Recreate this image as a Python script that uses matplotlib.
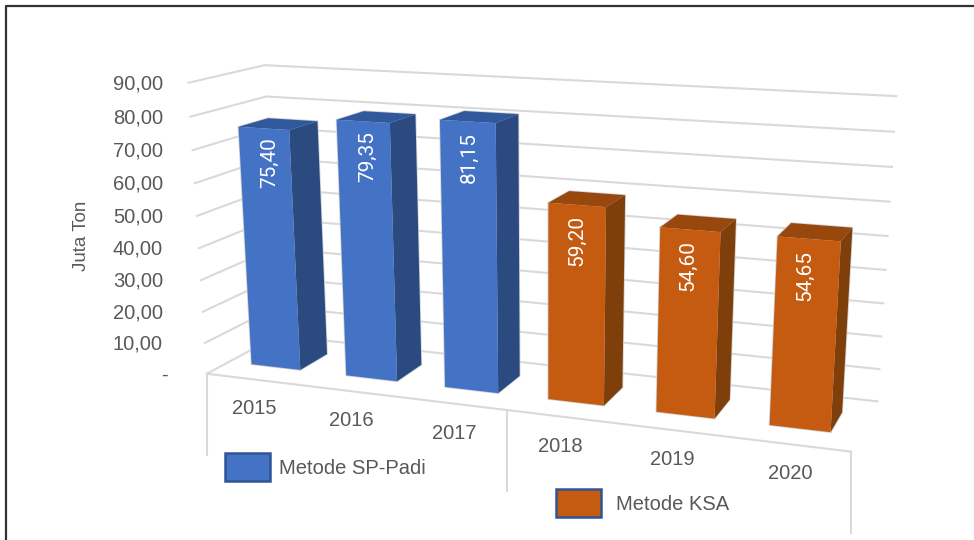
import numpy as np
import matplotlib
matplotlib.use('Agg')
import matplotlib.pyplot as plt
from matplotlib.patches import Polygon, Rectangle

# Data
tahun = ['2015', '2016', '2017', '2018', '2019', '2020']
nilai = [75.40, 79.35, 81.15, 59.20, 54.60, 54.65]
nilai_label = ['75,40', '79,35', '81,15', '59,20', '54,60', '54,65']
level = [0, 10, 20, 30, 40, 50, 60, 70, 80, 90]
level_label = ['-', '10,00', '20,00', '30,00', '40,00', '50,00', '60,00', '70,00', '80,00', '90,00']

plt.rcParams['font.family'] = ['Liberation Sans', 'DejaVu Sans']
abu = '#595959'
garis = '#D9D9D9'
warna_biru = ('#4472C4', '#2A4A80', '#32589C')
warna_oranye = ('#C55A11', '#7F3F0B', '#98480D')

# Kalibrasi perspektif: (kategori, nilai, kedalaman) -> piksel
dunia = [(0, 0, 0), (6, 0, 0), (0, 0, 1), (6, 0, 1), (0, 90, 0), (0, 90, 1),
         (6, 90, 1), (0, 50, 0), (6, 50, 1)]
piksel = [(207, 374), (851, 451), (278, 335), (877, 402), (188, 83), (265, 65),
          (896, 96), (197, 216), (888, 236)]
A = []
b = []
for (X, Y, Z), (u, v) in zip(dunia, piksel):
    A.append([X, Y, Z, 1, 0, 0, 0, 0, -u * X, -u * Y, -u * Z])
    b.append(u)
    A.append([0, 0, 0, 0, X, Y, Z, 1, -v * X, -v * Y, -v * Z])
    b.append(v)
h = np.linalg.lstsq(np.array(A, dtype=float), np.array(b, dtype=float), rcond=None)[0]
P = np.append(h, 1.0).reshape(3, 4)


def proj(x, y, z):
    p = P @ np.array([x, y, z, 1.0])
    return p[0] / p[2], p[1] / p[2]


fig = plt.figure(figsize=(9.74, 5.4), dpi=100)
ax = fig.add_axes([0, 0, 1, 1])
ax.set_xlim(0, 974)
ax.set_ylim(540, 0)
ax.axis('off')

# Bingkai
ax.plot([6, 6, 974], [540, 6, 6], color='#333333', lw=1.6, zorder=1)

# Garis grid dinding
for v in level:
    a = proj(0, v, 0)
    c = proj(0, v, 1)
    d = proj(6, v, 1)
    ax.plot([a[0], c[0], d[0]], [a[1], c[1], d[1]], color=garis, lw=1.5, zorder=2)

# Garis depan lantai dan pemisah kategori
a = proj(0, 0, 0)
d = proj(6, 0, 0)
ax.plot([a[0], d[0]], [a[1], d[1]], color=garis, lw=1.5, zorder=2)
for i in [0, 3, 6]:
    t = proj(i, 0, 0)
    ax.plot([t[0], t[0]], [t[1], t[1] + 81], color=garis, lw=1.5, zorder=2)

# Batang
gap = 0.24
z0 = 0.3
z1 = 0.7
for i, v in enumerate(nilai):
    warna = warna_biru if i < 3 else warna_oranye
    x0 = i + gap
    x1 = i + 1 - gap
    muka = [proj(x0, 0, z0), proj(x1, 0, z0), proj(x1, v, z0), proj(x0, v, z0)]
    samping = [proj(x1, 0, z0), proj(x1, 0, z1), proj(x1, v, z1), proj(x1, v, z0)]
    atas = [proj(x0, v, z0), proj(x1, v, z0), proj(x1, v, z1), proj(x0, v, z1)]
    # pinggiran terang tipis di sekeliling batang
    for sisi in [muka, samping, atas]:
        ax.add_patch(Polygon(sisi, closed=True, fc='none', ec='#D0D3D8', lw=1.2, zorder=2.5))
    ax.add_patch(Polygon(samping, closed=True, fc=warna[1], ec='none', zorder=3))
    ax.add_patch(Polygon(atas, closed=True, fc=warna[2], ec='none', zorder=3))
    ax.add_patch(Polygon(muka, closed=True, fc=warna[0], ec='none', zorder=4))
    lx = proj((x0 + x1) / 2, v / 2, z0)[0]
    ly = proj((x0 + x1) / 2, v - 10.3, z0)[1]
    ax.text(lx, ly, nilai_label[i], color='white', fontsize=15, family=['Roboto', 'DejaVu Sans'],
            rotation=90, ha='center', va='center', zorder=5)
    tx, ty = proj(i + 0.5, 0, 0)
    ax.text(tx, ty + 29.5, tahun[i], color=abu, fontsize=14.5, ha='center', va='center', zorder=5)

# Label sumbu
for v, s in zip(level, level_label):
    _, ly = proj(0, v, 0)
    ax.text(168 if s == '-' else 163, ly + 1, s, color=abu, fontsize=14.5, ha='right', va='center')
ax.text(81, 236, 'Juta Ton', color=abu, fontsize=13.5, rotation=90, ha='center', va='center')

# Legenda
ax.add_patch(Rectangle((225, 453), 45, 28, fc='#4472C4', ec='#2F5597', lw=1.8, zorder=5))
ax.text(279, 469, 'Metode SP-Padi', color=abu, fontsize=14.5, ha='left', va='center', zorder=5)
ax.add_patch(Rectangle((556, 489), 45, 28, fc='#C55A11', ec='#2F5597', lw=1.8, zorder=5))
ax.text(616, 505, 'Metode KSA', color=abu, fontsize=14.5, ha='left', va='center', zorder=5)

fig.savefig('out.png', dpi=100)
